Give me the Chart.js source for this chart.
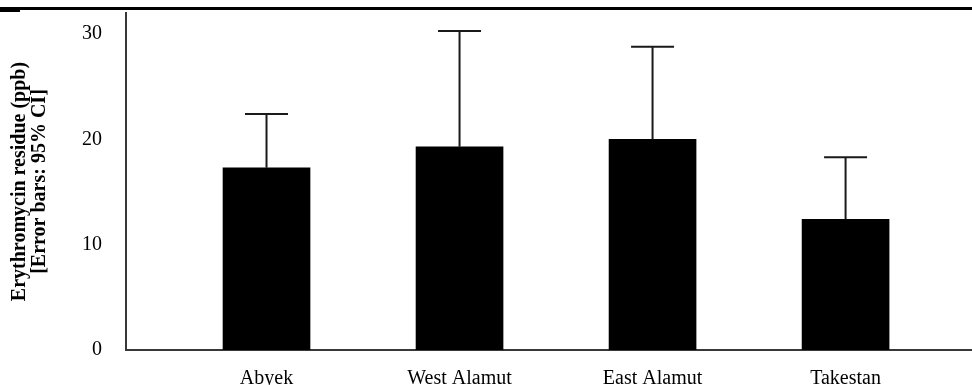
<!DOCTYPE html>
<html>
<head>
<meta charset="utf-8">
<script src="https://cdn.jsdelivr.net/npm/chart.js@4.4.1/dist/chart.umd.min.js"></script>
<style>
  html, body { margin: 0; padding: 0; background: #ffffff; }
  #wrap { position: relative; width: 972px; height: 385px; overflow: hidden; background: #fff; }
  #rule { position: absolute; left: 0; top: 7px; width: 972px; height: 3px; background: #000; }
  #ruleTab { position: absolute; left: 0; top: 7px; width: 20px; height: 5px; background: #000; }
  canvas { position: absolute; left: 0; top: 0; }
</style>
</head>
<body>
<div id="wrap">
  <canvas id="c" width="972" height="385"></canvas>
  <div id="rule"></div>
  <div id="ruleTab"></div>
</div>
<script>
const categories = ['Abyek', 'West Alamut', 'East Alamut', 'Takestan'];
const means = [17.3, 19.3, 20.0, 12.4];
const upperCI = [22.4, 30.3, 28.8, 18.3];
const yTicks = [0, 10, 20, 30];
const yTitleLines = ['Erythromycin residue (ppb)', '[Error bars: 95% CI]'];

const SERIF = "'Liberation Serif', 'Times New Roman', serif";

const errorBarPlugin = {
  id: 'errorBars',
  afterDatasetsDraw(chart) {
    const ctx = chart.ctx;
    const xs = chart.scales.x, ys = chart.scales.y;
    ctx.save();
    ctx.strokeStyle = '#1a1a1a';
    ctx.lineWidth = 2;
    categories.forEach((c, i) => {
      const x = xs.getPixelForValue(i + 1);
      const yMean = ys.getPixelForValue(means[i]);
      const yUp = ys.getPixelForValue(upperCI[i]);
      ctx.beginPath();
      ctx.moveTo(x, yMean);
      ctx.lineTo(x, yUp);
      ctx.moveTo(x - 21.5, yUp);
      ctx.lineTo(x + 21.5, yUp);
      ctx.stroke();
    });
    ctx.restore();
  }
};

const bgPlugin = {
  id: 'bg',
  beforeDraw(chart) {
    const ctx = chart.ctx;
    ctx.save();
    ctx.fillStyle = '#fff';
    ctx.fillRect(0, 0, chart.width, chart.height);
    ctx.restore();
  }
};

new Chart(document.getElementById('c'), {
  type: 'bar',
  data: {
    datasets: [{
      data: categories.map((c, i) => ({ x: i + 1, y: means[i] })),
      backgroundColor: '#000000',
      borderWidth: 0,
      barThickness: 87
    }]
  },
  options: {
    responsive: false,
    animation: false,
    devicePixelRatio: 1,
    layout: { padding: { top: 13, right: 0, left: 0, bottom: 0 } },
    plugins: { legend: { display: false }, tooltip: { enabled: false }, title: { display: false } },
    scales: {
      x: {
        type: 'linear',
        offset: false,
        min: 0.272,
        max: 4.655,
        afterBuildTicks(scale) { scale.ticks = categories.map((c, i) => ({ value: i + 1 })); },
        afterFit(scale) { scale.height = 35; scale.paddingLeft = 0; scale.paddingRight = 0; },
        grid: { display: false, drawTicks: false },
        border: { display: true, color: '#383838', width: 2 },
        ticks: {
          autoSkip: false,
          maxRotation: 0,
          padding: 17,
          color: '#000',
          font: { family: SERIF, size: 20 },
          callback: (v) => categories[Math.round(v) - 1] || ''
        }
      },
      y: {
        min: 0,
        max: 32,
        afterBuildTicks(scale) { scale.ticks = yTicks.map(v => ({ value: v })); },
        afterFit(scale) { scale.width = 126; scale.paddingTop = 0; scale.paddingBottom = 0; },
        grid: { display: false, drawTicks: false },
        border: { display: true, color: '#383838', width: 2 },
        title: {
          display: true,
          text: yTitleLines,
          color: '#000',
          font: { family: SERIF, size: 20, weight: 'bold', lineHeight: 1.0 },
          padding: { top: 10, bottom: 0 }
        },
        ticks: {
          padding: 24,
          color: '#000',
          font: { family: SERIF, size: 20 }
        }
      }
    }
  },
  plugins: [bgPlugin, errorBarPlugin]
});
</script>
</body>
</html>
